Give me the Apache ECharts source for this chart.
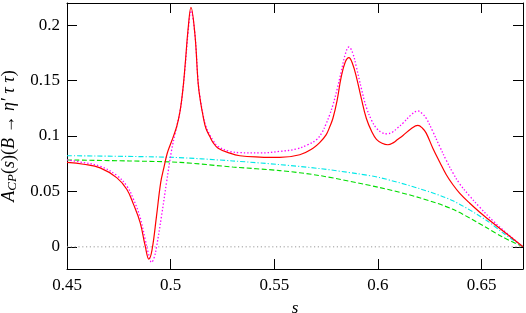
<!DOCTYPE html>
<html>
<head>
<meta charset="utf-8">
<script src="https://cdn.jsdelivr.net/npm/echarts@6/dist/echarts.min.js"></script>
<style>
html,body{margin:0;padding:0;background:#fff;}
#c{width:526px;height:313px;}
</style>
</head>
<body>
<div id="c"></div>
<script>
// ---- data ----
const xTicks = [0.45, 0.5, 0.55, 0.6, 0.65];
const yTicks = [0, 0.05, 0.1, 0.15, 0.2];

// red solid
const redS = [0.450,0.458,0.466,0.4741,0.4789,0.4821,0.4853,0.4877,0.4895,0.4910,0.4932,0.4952,0.4968,0.4983,0.5000,0.5012,0.5030,0.5045,0.5058,0.5069,0.5085,0.5098,0.5117,0.5133,0.5145,0.5157,0.5170,0.5189,0.5205,0.5229,0.5286,0.5334,0.5430,0.5526,0.5623,0.5687,0.5719,0.5750,0.5767,0.5783,0.5803,0.5823,0.5843,0.5860,0.5878,0.5896,0.5920,0.5944,0.5970,0.5993,0.6020,0.6048,0.6075,0.6093,0.6121,0.6160,0.6193,0.6215,0.6233,0.6265,0.6298,0.6330,0.6362,0.6394,0.6442,0.6490,0.6555,0.6630,0.6700];
const redY = [0.0762,0.0745,0.0712,0.0622,0.0517,0.0383,0.0219,0.0010,-0.0110,-0.0030,0.0280,0.0580,0.0720,0.0840,0.0930,0.0990,0.1090,0.1220,0.1400,0.1620,0.1980,0.2160,0.1920,0.1470,0.1300,0.1175,0.1070,0.0996,0.0940,0.0890,0.0845,0.0822,0.0810,0.0807,0.0831,0.0890,0.0940,0.1010,0.1080,0.1160,0.1320,0.1534,0.1670,0.1708,0.1650,0.1534,0.1340,0.1160,0.1040,0.0970,0.0935,0.0921,0.0940,0.0966,0.1005,0.1065,0.1095,0.1070,0.1026,0.0890,0.0765,0.0650,0.0560,0.0485,0.0395,0.0315,0.0215,0.0105,0.0000];

// magenta dotted
const magS = [0.450,0.458,0.466,0.4741,0.4789,0.4821,0.4853,0.4877,0.4893,0.4908,0.4920,0.4932,0.4956,0.4980,0.5005,0.5020,0.5045,0.5058,0.5069,0.5085,0.5098,0.5117,0.5133,0.5145,0.5157,0.5170,0.5189,0.5205,0.5229,0.5286,0.5334,0.5430,0.5526,0.5607,0.5660,0.5703,0.5730,0.5750,0.5767,0.5783,0.5803,0.5823,0.5843,0.5860,0.5878,0.5896,0.5920,0.5944,0.5970,0.5993,0.6020,0.6043,0.6070,0.6093,0.6121,0.6160,0.6193,0.6215,0.6233,0.6265,0.6298,0.6330,0.6362,0.6394,0.6442,0.6490,0.6555,0.6630,0.6700];
const magY = [0.0785,0.0760,0.0727,0.0643,0.0547,0.0428,0.0264,0.0069,-0.0060,-0.0140,-0.0100,0.0000,0.0278,0.0578,0.0876,0.1010,0.1220,0.1400,0.1600,0.1950,0.2130,0.1920,0.1480,0.1310,0.1185,0.1090,0.1010,0.0960,0.0905,0.0861,0.0850,0.0847,0.0861,0.0883,0.0920,0.0966,0.1030,0.1110,0.1190,0.1280,0.1420,0.1580,0.1740,0.1803,0.1750,0.1623,0.1430,0.1260,0.1140,0.1070,0.1030,0.1020,0.1035,0.1070,0.1116,0.1190,0.1226,0.1200,0.1160,0.1040,0.0906,0.0780,0.0667,0.0570,0.0460,0.0360,0.0235,0.0110,0.0000];

// green dashed
const greenS = [0.450,0.480,0.5045,0.530,0.5526,0.5719,0.6008,0.6201,0.6362,0.6523,0.6600,0.6700];
const greenY = [0.0784,0.0775,0.0762,0.0720,0.0688,0.0643,0.0535,0.0443,0.0338,0.0174,0.0090,0.0000];

// cyan dash-dot
const cyanS = [0.450,0.500,0.530,0.5526,0.5719,0.590,0.6008,0.6201,0.6362,0.6523,0.6600,0.6700];
const cyanY = [0.0822,0.0808,0.0775,0.0742,0.0706,0.0660,0.0625,0.0525,0.0415,0.0240,0.0130,0.0000];

// zero axis
const zeroS = [0.45, 0.67];
const zeroY = [0, 0];

const pairs = (xs, ys) => xs.map((x, i) => [x, ys[i]]);
const FONT = 'Liberation Serif';
const fmt = v => String(parseFloat(Number(v).toFixed(6)));

const chart = echarts.init(document.getElementById('c'), null, {renderer: 'canvas'});
const axisCommon = {
  type: 'value',
  axisLine: {show: true, onZero: false, lineStyle: {color: '#000', width: 1}},
  splitLine: {show: false}
};
chart.setOption({
  animation: false,
  backgroundColor: '#fff',
  grid: {left: 67, right: 3, top: 3, bottom: 44, containLabel: false, outerBoundsMode: 'none'},
  xAxis: [
    Object.assign({}, axisCommon, {
      min: 0.45, max: 0.67, position: 'bottom',
      axisTick: {show: true, inside: true, length: 10, customValues: xTicks, lineStyle: {color: '#000', width: 1}},
      axisLabel: {show: true, customValues: xTicks, formatter: fmt, color: '#000', fontFamily: FONT, fontSize: 17, margin: 8},
      name: 's', nameLocation: 'middle', nameGap: 31,
      nameTextStyle: {color: '#000', fontFamily: FONT, fontSize: 17, fontStyle: 'italic'}
    }),
    Object.assign({}, axisCommon, {
      min: 0.45, max: 0.67, position: 'top',
      axisTick: {show: true, inside: true, length: 10, customValues: xTicks, lineStyle: {color: '#000', width: 1}},
      axisLabel: {show: false}
    })
  ],
  yAxis: [
    Object.assign({}, axisCommon, {
      min: -0.02, max: 0.22, position: 'left',
      axisTick: {show: true, inside: true, length: 10, customValues: yTicks, lineStyle: {color: '#000', width: 1}},
      axisLabel: {show: true, customValues: yTicks, formatter: fmt, color: '#000', fontFamily: FONT, fontSize: 17, margin: 7},
      name: '{i|A}{sub|CP}{n|(}{i|s}{n|)(}{i|B}{n| → }{i|η′ τ τ}{n|)}',
      nameLocation: 'middle', nameGap: 48,
      nameTextStyle: {
        color: '#000', fontFamily: FONT, fontSize: 18,
        rich: {
          i: {fontFamily: FONT, fontSize: 18, fontStyle: 'italic', color: '#000', lineHeight: 20, verticalAlign: 'middle'},
          n: {fontFamily: FONT, fontSize: 18, color: '#000', lineHeight: 20, verticalAlign: 'middle'},
          sub: {fontFamily: FONT, fontSize: 13, fontStyle: 'italic', color: '#000', lineHeight: 13, verticalAlign: 'bottom'}
        }
      }
    }),
    Object.assign({}, axisCommon, {
      min: -0.02, max: 0.22, position: 'right',
      axisTick: {show: true, inside: true, length: 10, customValues: yTicks, lineStyle: {color: '#000', width: 1}},
      axisLabel: {show: false}
    })
  ],
  series: [
    {type: 'line', name: 'zero', data: pairs(zeroS, zeroY), showSymbol: false, silent: true,
      lineStyle: {color: '#999', width: 1, type: [1.2, 2.6]}, z: 1},
    {type: 'line', name: 'green', data: pairs(greenS, greenY), showSymbol: false, smooth: 0.3,
      lineStyle: {color: '#00dd00', width: 1.1, type: [5, 2.5]}, z: 2},
    {type: 'line', name: 'cyan', data: pairs(cyanS, cyanY), showSymbol: false, smooth: 0.3,
      lineStyle: {color: '#00e8e8', width: 1.1, type: [5, 2, 1.2, 2]}, z: 2},
    {type: 'line', name: 'magenta', data: pairs(magS, magY), showSymbol: false, smooth: 0.4,
      lineStyle: {color: '#ff00ff', width: 1.3, type: [1.4, 2]}, z: 3},
    {type: 'line', name: 'red', data: pairs(redS, redY), showSymbol: false, smooth: 0.4,
      lineStyle: {color: '#ff0000', width: 1.2, type: 'solid'}, z: 4}
  ]
});
</script>
</body>
</html>
